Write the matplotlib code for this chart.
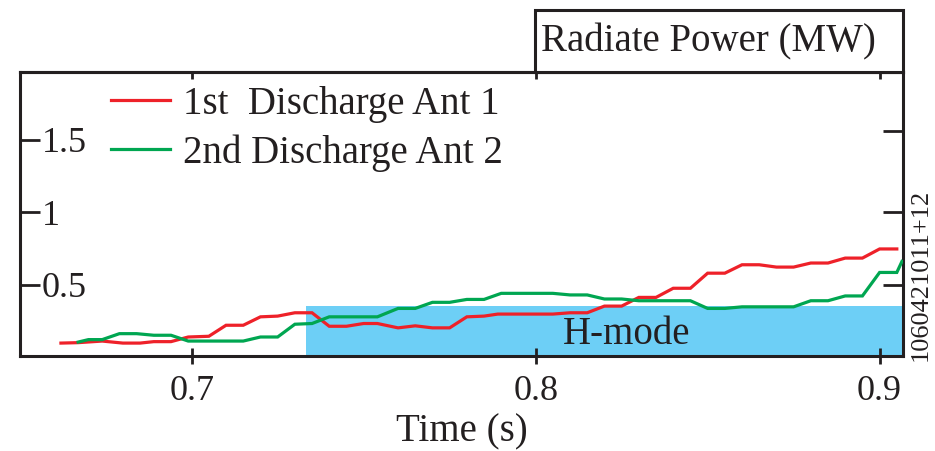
import matplotlib
matplotlib.use("Agg")
import matplotlib.pyplot as plt
from matplotlib.patches import Rectangle

plt.rcParams['font.family'] = ['Liberation Serif', 'DejaVu Serif']

# ---- data ----
t_red = [0.662, 0.667, 0.674, 0.680, 0.685, 0.689, 0.694, 0.699, 0.705, 0.710,
         0.715, 0.720, 0.725, 0.730, 0.735, 0.740, 0.745, 0.750, 0.754, 0.760,
         0.765, 0.770, 0.775, 0.780, 0.785, 0.789, 0.795, 0.805, 0.810, 0.815,
         0.820, 0.825, 0.830, 0.835, 0.840, 0.845, 0.850, 0.855, 0.860, 0.865,
         0.870, 0.875, 0.880, 0.885, 0.890, 0.895, 0.900, 0.905]
p_red = [0.099, 0.102, 0.113, 0.099, 0.099, 0.109, 0.109, 0.141, 0.146, 0.222,
         0.222, 0.280, 0.285, 0.308, 0.308, 0.215, 0.215, 0.234, 0.234, 0.204,
         0.218, 0.204, 0.204, 0.280, 0.285, 0.299, 0.299, 0.299, 0.308, 0.308,
         0.354, 0.354, 0.414, 0.414, 0.477, 0.477, 0.581, 0.581, 0.639, 0.639,
         0.623, 0.623, 0.651, 0.651, 0.685, 0.685, 0.748, 0.748]

t_green = [0.667, 0.670, 0.674, 0.679, 0.684, 0.689, 0.694, 0.699, 0.705, 0.715,
           0.720, 0.725, 0.730, 0.735, 0.740, 0.745, 0.754, 0.760, 0.765, 0.770,
           0.775, 0.780, 0.785, 0.790, 0.795, 0.805, 0.810, 0.815, 0.820, 0.825,
           0.830, 0.845, 0.850, 0.855, 0.860, 0.875, 0.880, 0.885, 0.890, 0.895,
           0.900, 0.905, 0.9065]
p_green = [0.106, 0.123, 0.123, 0.164, 0.164, 0.153, 0.153, 0.113, 0.113, 0.113,
           0.141, 0.141, 0.229, 0.234, 0.280, 0.280, 0.280, 0.338, 0.338, 0.380,
           0.380, 0.400, 0.400, 0.442, 0.442, 0.442, 0.431, 0.431, 0.403, 0.403,
           0.391, 0.391, 0.338, 0.338, 0.349, 0.349, 0.391, 0.391, 0.424, 0.424,
           0.586, 0.586, 0.662]

labels = ["1st  Discharge Ant 1", "2nd Discharge Ant 2"]
hmode_start = 0.7332
hmode_level = 0.355
x_ticks = [0.7, 0.8, 0.9]
x_ticklabels = ["0.7", "0.8", "0.9"]
y_ticks = [0.5, 1.0, 1.5]
y_ticklabels = ["0.5", "1", "1.5"]
y_ticks_right = [0.5, 1.0, 1.56]

XLIM = (0.6501, 0.9068)
YLIM = (0.01, 1.97)

INK = '#231F20'
RED = '#EE2129'
GREEN = '#00A651'
BLUE = '#6DCFF6'
FS = 28
TFS = 26

fig = plt.figure(figsize=(9.35, 4.51), dpi=100)
ax = fig.add_axes([20/935, 1 - 356/451, (903-20)/935, (356-71.7)/451])
ax.set_xlim(*XLIM)
ax.set_ylim(*YLIM)

ax.add_patch(Rectangle((hmode_start, YLIM[0]), XLIM[1] - hmode_start,
                       hmode_level - YLIM[0], facecolor=BLUE, edgecolor='none', zorder=1))
ax.text(0.8265, 0.16, "H-mode", fontsize=FS, color=INK, ha='center', va='center', zorder=2)

l1, = ax.plot(t_red, p_red, color=RED, lw=2.3, zorder=3, solid_joinstyle='miter')
l2, = ax.plot(t_green, p_green, color=GREEN, lw=2.3, zorder=3, solid_joinstyle='miter')

leg = ax.legend([l1, l2], labels, loc='upper left', bbox_to_anchor=(0.085, 1.005),
                frameon=False, fontsize=FS, handlelength=1.54, handletextpad=0.33,
                labelspacing=0.3, borderaxespad=0)
for txt in leg.get_texts():
    txt.set_color(INK)

for sp in ax.spines.values():
    sp.set_linewidth(2.2)
    sp.set_color(INK)

ax.set_xticks(x_ticks, x_ticklabels)
ax.tick_params(axis='x', direction='inout', length=11, width=2, colors=INK,
               labelsize=TFS, pad=8)
ax.set_yticks(y_ticks, y_ticklabels)
ax.tick_params(axis='y', direction='in', length=14.5, width=2, colors=INK,
               labelsize=TFS, pad=-15.5)
for lbl in ax.get_yticklabels():
    lbl.set_horizontalalignment('left')

top = ax.secondary_xaxis('top')
top.set_xticks(x_ticks)
top.tick_params(direction='in', length=5, width=2, colors=INK, labeltop=False)
top.spines['top'].set_linewidth(2.2)
top.spines['top'].set_color(INK)

right = ax.twinx()
right.set_ylim(*YLIM)
right.set_yticks(y_ticks_right)
right.tick_params(direction='in', length=14.5, width=2, colors=INK, labelright=False)
for sp in right.spines.values():
    sp.set_visible(False)

ax.set_xlabel("Time (s)", fontsize=FS, color=INK, labelpad=4)

# title box
fig.patches.append(Rectangle((535/935, 1 - 71.7/451), (903-535)/935, (71.7-10)/451,
                             transform=fig.transFigure, facecolor='white',
                             edgecolor=INK, linewidth=2.2, zorder=5))
fig.text(541/935, 1 - 42/451, "Radiate Power (MW)", fontsize=FS, color=INK,
         ha='left', va='center', zorder=6)

fig.text(921/935, 1 - 275/451, "1060421011+12", fontsize=19, color=INK,
         rotation=90, ha='center', va='center')

fig.savefig("out.png", dpi=100)
